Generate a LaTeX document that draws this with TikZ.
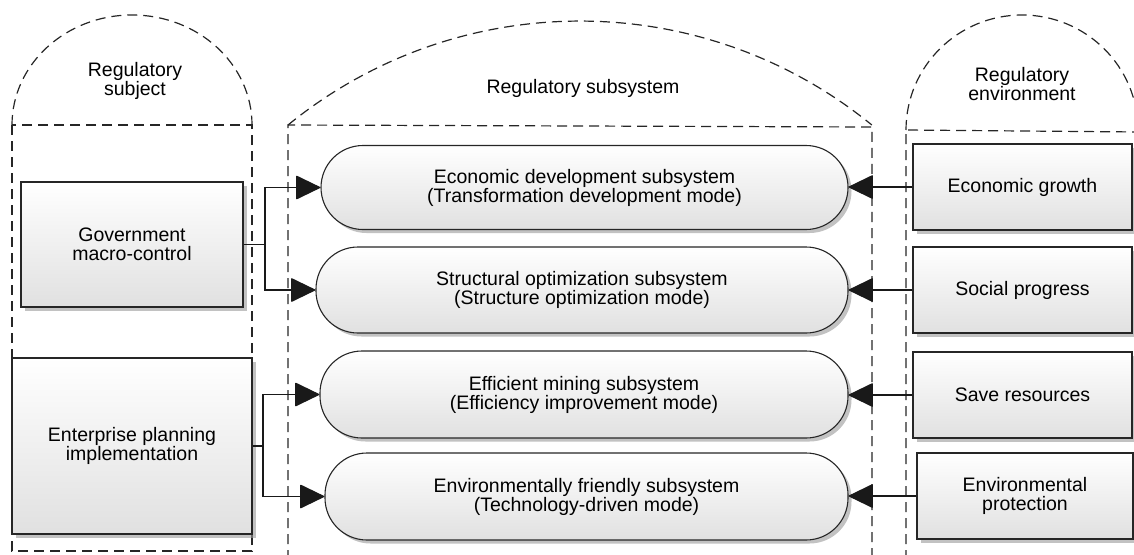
\documentclass[tikz,border=0pt]{standalone}
\usepackage{fontspec}
\setmainfont{Liberation Sans}
\usetikzlibrary{arrows.meta,shadows}
\begin{document}
\begin{tikzpicture}[x=1pt,y=-1pt,
  every node/.style={font=\fontsize{19.5}{19}\selectfont, align=center, text=black},
  dashline/.style={draw=black!85, line width=1.2pt, dash pattern=on 10pt off 6pt},
  shadebox/.style={draw=black!85, line width=1.1pt, inner sep=0pt,
    top color=white, bottom color=black!12,
    drop shadow={shadow xshift=3.5pt, shadow yshift=-3.5pt, fill=black!40, opacity=0.6}},
  plainbox/.style={shadebox, rectangle},
  pill/.style={shadebox, rounded corners=42pt},
  conn/.style={draw=black!90, line width=1.1pt},
  arr/.style={conn, -{Triangle[length=25pt, width=24pt, round]}},
  label/.style={inner sep=0pt}
]
\useasboundingbox (0,0) rectangle (1134,554);
\clip (0,0) rectangle (1134,554);

% ---- dashed group outlines with their arches ----
% subject group
\draw[dashline] (12,125) rectangle (252,551);
\draw[dashline] (12,125) arc[start angle=180, end angle=360, x radius=120, y radius=110];
% subsystem group
\draw[dashline] (288,560) -- (288,125) -- (872,127) -- (872,560);
\draw[dashline] (288,125) arc[start angle=230.8, end angle=309.2, radius=461.9];
% environment group
\draw[dashline] (906,560) -- (906,130) -- (1140,132);
\draw[dashline] (906,130) arc[start angle=180, end angle=360, x radius=116, y radius=115];

% ---- group headings ----
\node[label] (hsub) at (135,81) {Regulatory\\subject};
\node[label] (hmid) at (583,88) {Regulatory subsystem};
\node[label] (henv) at (1022,84) {Regulatory\\environment};

% ---- regulatory subjects ----
\node[plainbox, minimum width=222pt, minimum height=125pt] (gov) at (132,244.5)
  {Government\\macro-control};
\node[plainbox, minimum width=240pt, minimum height=176pt] (ent) at (132,446)
  {Enterprise planning\\implementation};

% ---- subsystems ----
\node[pill, minimum width=527pt, minimum height=84pt] (e1) at (584.5,187.5)
  {Economic development subsystem\\(Transformation development mode)};
\node[pill, minimum width=532pt, minimum height=86pt] (e2) at (582,290)
  {Structural optimization subsystem\\(Structure optimization mode)};
\node[pill, minimum width=528pt, minimum height=87pt] (e3) at (584,394.5)
  {Efficient mining subsystem\\(Efficiency improvement mode)};
\node[pill, minimum width=523pt, minimum height=87pt] (e4) at (586.5,496.5)
  {Environmentally friendly subsystem\\(Technology-driven mode)};

% ---- environment factors ----
\node[plainbox, minimum width=219pt, minimum height=86pt] (r1) at (1022.5,187)
  {Economic growth};
\node[plainbox, minimum width=219pt, minimum height=86pt] (r2) at (1022.5,290)
  {Social progress};
\node[plainbox, minimum width=219pt, minimum height=86pt] (r3) at (1022.5,395)
  {Save resources};
\node[plainbox, minimum width=216pt, minimum height=86pt] (r4) at (1025,496)
  {Environmental\\protection};

% ---- connectors from the subjects ----
\coordinate (j1) at (265,244.5);
\coordinate (j2) at (263,446);
\draw[conn] (gov.east) -- (j1);
\draw[arr] (j1) |- (e1.west);
\draw[arr] (j1) |- (e2.west);
\draw[conn] (ent.east) -- (j2);
\draw[arr] (j2) |- (e3.west);
\draw[arr] (j2) |- (e4.west);

% ---- connectors from the environment ----
\draw[arr] (r1.west) -- (r1.west -| e1.east);
\draw[arr] (r2.west) -- (r2.west -| e2.east);
\draw[arr] (r3.west) -- (r3.west -| e3.east);
\draw[arr] (r4.west) -- (r4.west -| e4.east);
\end{tikzpicture}
\end{document}
